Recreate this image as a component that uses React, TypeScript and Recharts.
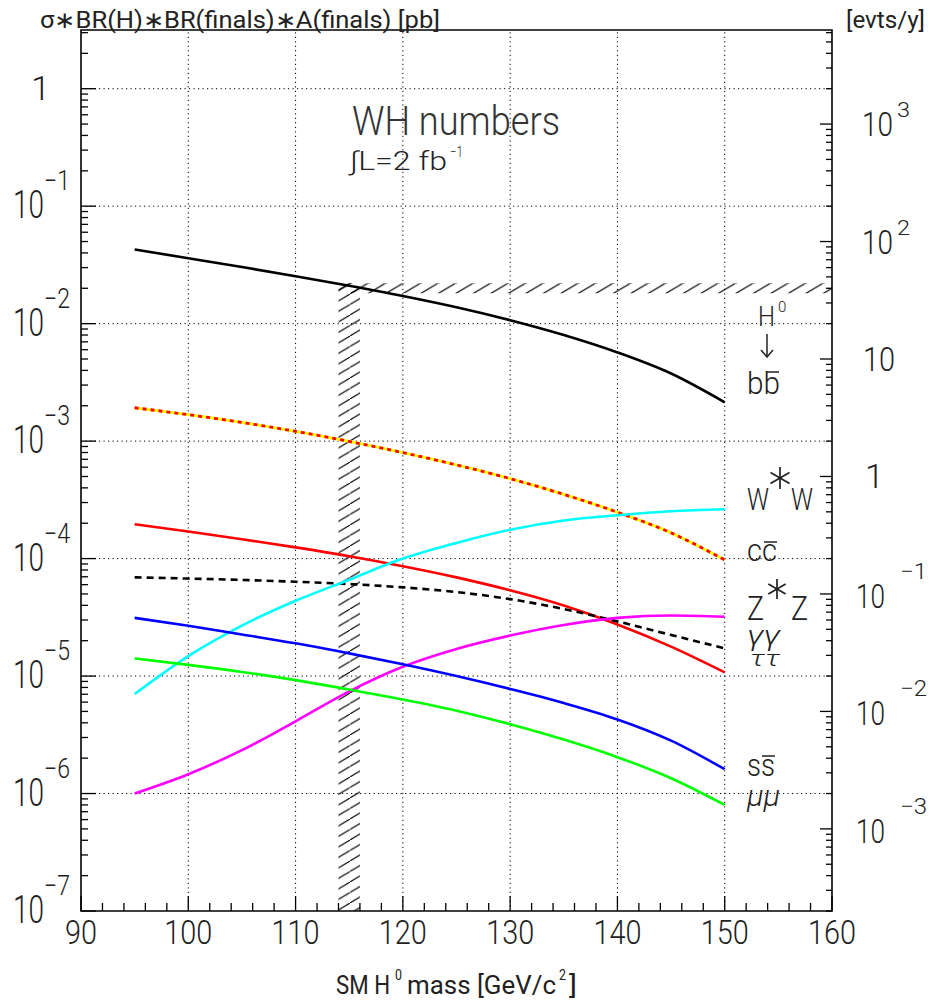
import React from 'react';
import { ComposedChart, Line, XAxis, YAxis, ReferenceLine, ReferenceArea } from 'recharts';

// Higgs mass points [GeV/c^2]
const masses = [95, 100, 105, 110, 115, 120, 125, 130, 135, 140, 145, 150];

// sigma * BR(H) * BR(finals) * A(finals) [pb] for each decay channel
const bbbar = [0.04276, 0.03606, 0.03034, 0.02535, 0.02099, 0.01718, 0.01377, 0.01069, 0.008, 0.00569, 0.00376, 0.00214];
const ccbar = [1.923e-3, 1.679e-3, 1.442e-3, 1.211e-3, 9.93e-4, 7.98e-4, 6.27e-4, 4.79e-4, 3.52e-4, 2.48e-4, 1.656e-4, 9.75e-5];
const tautau = [1.963e-4, 1.698e-4, 1.462e-4, 1.245e-4, 1.047e-4, 8.61e-5, 6.92e-5, 5.37e-5, 3.98e-5, 2.75e-5, 1.78e-5, 1.074e-5];
const gamgam = [6.92e-5, 6.76e-5, 6.58e-5, 6.35e-5, 6.07e-5, 5.69e-5, 5.19e-5, 4.52e-5, 3.72e-5, 2.92e-5, 2.24e-5, 1.72e-5];
const wwstar = [7.03e-6, 1.48e-5, 2.69e-5, 4.37e-5, 6.61e-5, 1.0e-4, 1.36e-4, 1.76e-4, 2.11e-4, 2.34e-4, 2.53e-4, 2.63e-4];
const zzstar = [1.0e-6, 1.46e-6, 2.34e-6, 4.12e-6, 7.41e-6, 1.2e-5, 1.7e-5, 2.21e-5, 2.72e-5, 3.13e-5, 3.28e-5, 3.2e-5];
const ssbar = [3.13e-5, 2.68e-5, 2.26e-5, 1.9e-5, 1.56e-5, 1.26e-5, 1.0e-5, 7.76e-6, 5.89e-6, 4.27e-6, 2.82e-6, 1.61e-6];
const mumu = [1.41e-5, 1.245e-5, 1.084e-5, 9.23e-6, 7.67e-6, 6.31e-6, 5.07e-6, 3.89e-6, 2.88e-6, 2.04e-6, 1.35e-6, 8.0e-7];

// axes
const massTicks = [90, 92, 94, 96, 98, 100, 102, 104, 106, 108, 110, 112, 114, 116, 118, 120, 122, 124, 126, 128, 130, 132, 134, 136, 138, 140, 142, 144, 146, 148, 150, 152, 154, 156, 158, 160];
const massLabels = [90, 100, 110, 120, 130, 140, 150, 160];
const xsecDecades = [1e-7, 1e-6, 1e-5, 1e-4, 1e-3, 1e-2, 1e-1, 1];
const xsecGrid = [1e-6, 1e-5, 1e-4, 1e-3, 1e-2, 1e-1, 1];
const massGrid = [100, 110, 120, 130, 140, 150];
const evtDecades = [1e-3, 1e-2, 1e-1, 1, 10, 100, 1000];
const xsecDomain = [1e-7, 3.16];
const LUMI_PB = 2000; // 2 fb^-1 in pb^-1
const evtDomain = xsecDomain.map((v) => v * LUMI_PB);

// LEP exclusion band and the rate threshold band
const lepMass = [114, 116];
const rateBand = [0.0181, 0.0222];

const minors = (decades: number[], lo: number, hi: number) => {
  const out: number[] = [];
  const all = [...decades.map((d) => d / 10), ...decades];
  Array.from(new Set(all)).forEach((d) => {
    for (let k = 1; k <= 9; k++) {
      const v = d * k;
      if (v >= lo * 0.999 && v <= hi * 1.001) out.push(v);
    }
  });
  return Array.from(new Set(out.map((v) => +v.toPrecision(6)))).sort((a, b) => a - b);
};
const xsecTicks = minors(xsecDecades, xsecDomain[0], xsecDomain[1]);
const evtTicks = minors([...evtDecades, 1e4], evtDomain[0], evtDomain[1]);

const rows = masses.map((m, i) => ({
  m,
  bb: bbbar[i],
  cc: ccbar[i],
  tau: tautau[i],
  gam: gamgam[i],
  ww: wwstar[i],
  zz: zzstar[i],
  ss: ssbar[i],
  mu: mumu[i],
}));

const FONT = "Roboto, 'Liberation Sans', Arial, sans-serif";
const INK = '#222';

const isDecade = (v: number) => Math.abs(Math.log10(v) - Math.round(Math.log10(v))) < 1e-6;
const expOf = (v: number) => Math.round(Math.log10(v));
const sup = (n: number) => (n < 0 ? '\u2212' + Math.abs(n) : String(n));

function Txt(props: any) {
  const { x, y, size, len, anchor = 'start', italic = false, fill = INK, weight = 300, children } = props;
  return (
    <text
      x={x}
      y={y}
      fontSize={size}
      fontFamily={FONT}
      textAnchor={anchor}
      fontStyle={italic ? 'italic' : 'normal'}
      fontWeight={weight}
      fill={fill}
      textLength={len}
      lengthAdjust={len ? 'spacingAndGlyphs' : undefined}
    >
      {children}
    </text>
  );
}

function LeftTick(p: any) {
  const { x, y, payload } = p;
  const v = payload.value;
  const major = isDecade(v);
  const e = expOf(v);
  return (
    <g>
      <line x1={x} y1={y} x2={x + (major ? 15 : 7)} y2={y} stroke="#000" strokeWidth={1.3} />
      {major && e === 0 && <Txt x={x - 31} y={y + 11} size={34} anchor="end">1</Txt>}
      {major && e !== 0 && (
        <g>
          <Txt x={x - 37} y={y + 12} size={38} len={31} anchor="end">10</Txt>
          <Txt x={x - 37} y={y - 16} size={27} len={26}>{sup(e)}</Txt>
        </g>
      )}
    </g>
  );
}

function RightTick(p: any) {
  const { x, y, payload } = p;
  const v = payload.value;
  const major = isDecade(v);
  const e = expOf(v);
  let label: any = null;
  if (major) {
    if (e === 0) label = <Txt x={x + 33} y={y + 12} size={34}>1</Txt>;
    else if (e === 1) label = <Txt x={x + 31} y={y + 12} size={34} len={32}>10</Txt>;
    else if (e > 1)
      label = (
        <g>
          <Txt x={x + 30} y={y + 12} size={34} len={31}>10</Txt>
          <Txt x={x + 65} y={y - 7} size={21} len={13}>{sup(e)}</Txt>
        </g>
      );
    else
      label = (
        <g>
          <Txt x={x + 24} y={y + 14} size={34} len={29}>10</Txt>
          <Txt x={x + 68} y={y - 15} size={22} len={27}>{sup(e)}</Txt>
        </g>
      );
  }
  return (
    <g>
      <line x1={x} y1={y} x2={x - (major ? 12 : 6)} y2={y} stroke="#000" strokeWidth={1.3} />
      {label}
    </g>
  );
}

function BottomTick(p: any) {
  const { x, y, payload } = p;
  const v = payload.value;
  const major = massLabels.includes(v);
  const s = String(v);
  return (
    <g>
      <line x1={x} y1={y} x2={x} y2={y - (major ? 15 : 8)} stroke="#000" strokeWidth={1.3} />
      {major && (
        <Txt x={x} y={y + 33} size={34} len={s.length * 16} anchor="middle">{s}</Txt>
      )}
    </g>
  );
}

function Bar(props: any) {
  const { x1, x2, y } = props;
  return <line x1={x1} x2={x2} y1={y} y2={y} stroke={INK} strokeWidth={1.5} />;
}

// six-spoke star used for the virtual boson mark
function Star(props: any) {
  const { cx, cy, r } = props;
  const spokes = [90, 30, 150];
  return (
    <g stroke={INK} strokeWidth={1.7}>
      {spokes.map((a) => {
        const dx = r * Math.cos((a * Math.PI) / 180);
        const dy = r * Math.sin((a * Math.PI) / 180);
        return <line key={a} x1={cx - dx} y1={cy - dy} x2={cx + dx} y2={cy + dy} />;
      })}
    </g>
  );
}

function Annotations() {
  return (
    <svg width={931} height={1000} style={{ position: 'absolute', left: 0, top: 0, pointerEvents: 'none' }}>
      {/* axis titles */}
      <Txt x={40} y={28} size={23} len={400} weight={400}>σ∗BR(H)∗BR(finals)∗A(finals) [pb]</Txt>
      <Txt x={846} y={28} size={23} len={79} weight={400}>[evts/y]</Txt>
      <Txt x={336} y={994} size={25} len={54} weight={400}>SM H</Txt>
      <Txt x={395} y={980} size={14} len={7} weight={400}>0</Txt>
      <Txt x={407} y={994} size={25} len={149} weight={400}>mass [GeV/c</Txt>
      <Txt x={559} y={980} size={14} len={7} weight={400}>2</Txt>
      <Txt x={569} y={994} size={25} len={8} weight={400}>]</Txt>

      {/* plot title */}
      <Txt x={352} y={135} size={41} len={208} fill="#333">WH numbers</Txt>
      <Txt x={350} y={170} size={26} len={97}>∫L=2 fb</Txt>
      <Txt x={450} y={157} size={15} len={13}>−1</Txt>

      {/* channel labels */}
      <Txt x={758} y={326} size={28} len={17}>H</Txt>
      <Txt x={778} y={312} size={15}>0</Txt>
      <g stroke={INK} strokeWidth={1.5} fill="none">
        <line x1={767} y1={334} x2={767} y2={357} />
        <polyline points="761,350 767,357 773,350" />
      </g>

      <Txt x={747} y={394} size={31} len={33}>bb</Txt>
      <Bar x1={766} x2={779} y={372} />

      <Txt x={747} y={510} size={32} len={22}>W</Txt>
      <Star cx={780} cy={478} r={11} />
      <Txt x={791} y={510} size={32} len={22}>W</Txt>

      <Txt x={747} y={561} size={31} len={30}>cc</Txt>
      <Bar x1={764} x2={777} y={542} />

      <Txt x={747} y={620} size={33} len={17}>Z</Txt>
      <Star cx={777} cy={589} r={10} />
      <Txt x={791} y={620} size={33} len={17}>Z</Txt>

      <Txt x={747} y={645} size={27} len={33} italic>γγ</Txt>
      <Txt x={750} y={666} size={22} len={30} italic>ττ</Txt>

      <Txt x={747} y={776} size={31} len={28}>ss</Txt>
      <Bar x1={762} x2={775} y={756} />

      <Txt x={747} y={806} size={29} len={33} italic>μμ</Txt>
    </svg>
  );
}

export default function App() {
  return (
    <div style={{ position: 'absolute', left: 0, top: 0, width: 931, height: 1000, background: '#fff' }}>
      <ComposedChart width={931} height={1000} data={rows} margin={{ top: 30, right: 0, bottom: 0, left: 0 }}>
        <defs>
          <pattern id="hatch" patternUnits="userSpaceOnUse" width={17.5} height={10.5}>
            <line x1={-17.5} y1={21} x2={35} y2={-10.5} stroke="#000" strokeWidth={1.1} />
          </pattern>
        </defs>
        <XAxis
          dataKey="m"
          type="number"
          domain={[90, 160]}
          ticks={massTicks}
          interval={0}
          allowDataOverflow
          height={89}
          tickSize={0}
          tickMargin={0}
          axisLine={false}
          tickLine={false}
          tick={(p: any) => <BottomTick {...p} />}
        />
        <YAxis
          yAxisId="L"
          type="number"
          scale="log"
          domain={xsecDomain}
          ticks={xsecTicks}
          interval={0}
          allowDataOverflow
          width={81}
          tickSize={0}
          tickMargin={0}
          axisLine={false}
          tickLine={false}
          tick={(p: any) => <LeftTick {...p} />}
        />
        <YAxis
          yAxisId="R"
          orientation="right"
          type="number"
          scale="log"
          domain={evtDomain}
          ticks={evtTicks}
          interval={0}
          allowDataOverflow
          width={99}
          tickSize={0}
          tickMargin={0}
          axisLine={false}
          tickLine={false}
          tick={(p: any) => <RightTick {...p} />}
        />

        <ReferenceArea yAxisId="L" x1={lepMass[0]} x2={lepMass[1]} y1={xsecDomain[0]} y2={rateBand[1]} fill="url(#hatch)" fillOpacity={1} stroke="none" />
        <ReferenceArea yAxisId="L" x1={lepMass[0]} x2={160} y1={rateBand[0]} y2={rateBand[1]} fill="url(#hatch)" fillOpacity={1} stroke="none" />

        {xsecGrid.map((v) => (
          <ReferenceLine key={'h' + v} yAxisId="L" y={v} stroke="#000" strokeWidth={1} strokeDasharray="1.2 3.3" />
        ))}
        {massGrid.map((v) => (
          <ReferenceLine key={'v' + v} yAxisId="L" x={v} stroke="#000" strokeWidth={1} strokeDasharray="1.2 3.3" />
        ))}

        <Line yAxisId="L" type="monotone" dataKey="bb" stroke="#000" strokeWidth={2.6} dot={false} isAnimationActive={false} />
        <Line yAxisId="L" type="monotone" dataKey="cc" stroke="#ffff00" strokeWidth={2.8} dot={false} isAnimationActive={false} />
        <Line yAxisId="L" type="monotone" dataKey="cc" stroke="#ff0000" strokeWidth={2.8} strokeDasharray="4 4" dot={false} isAnimationActive={false} />
        <Line yAxisId="L" type="monotone" dataKey="tau" stroke="#ff0000" strokeWidth={2.6} dot={false} isAnimationActive={false} />
        <Line yAxisId="L" type="monotone" dataKey="gam" stroke="#000" strokeWidth={2.6} strokeDasharray="7 5" dot={false} isAnimationActive={false} />
        <Line yAxisId="L" type="monotone" dataKey="ww" stroke="#00ffff" strokeWidth={2.6} dot={false} isAnimationActive={false} />
        <Line yAxisId="L" type="monotone" dataKey="zz" stroke="#ff00ff" strokeWidth={2.6} dot={false} isAnimationActive={false} />
        <Line yAxisId="L" type="monotone" dataKey="ss" stroke="#0000ff" strokeWidth={2.6} dot={false} isAnimationActive={false} />
        <Line yAxisId="L" type="monotone" dataKey="mu" stroke="#00ff00" strokeWidth={2.6} dot={false} isAnimationActive={false} />

        <ReferenceArea yAxisId="L" x1={90} x2={160} y1={xsecDomain[0]} y2={xsecDomain[1]} fill="none" fillOpacity={0} stroke="#000" strokeWidth={1.6} />
      </ComposedChart>
      <Annotations />
    </div>
  );
}
